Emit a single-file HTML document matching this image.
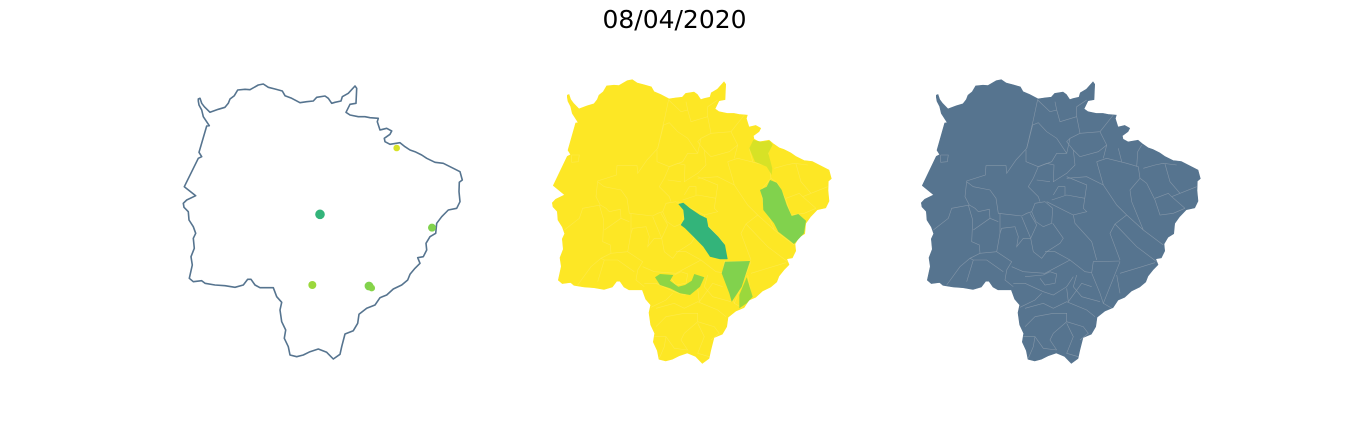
<!DOCTYPE html>
<html lang="pt">
<head>
<meta charset="utf-8">
<title>08/04/2020</title>
<style>
html,body{margin:0;padding:0;background:#fff;width:1350px;height:444px;overflow:hidden}
svg{display:block}
text{font-family:"DejaVu Sans","Liberation Sans",sans-serif}
</style>
</head>
<body>
<svg id="chart" width="1350" height="444" viewBox="0 0 1350 444" xmlns="http://www.w3.org/2000/svg">
  <text x="674.5" y="28" text-anchor="middle" font-size="25" fill="#000">08/04/2020</text>
  <g id="panel-points"></g>
  <g id="panel-regions"></g>
  <g id="panel-borders"></g>
</svg>
<script>
// State outline, digitised against the left panel (map units).
const outlineCoords = [85,87,90,85,95,100,103,110,120,127,145,118,165,112,175,100,180,87,193,77,203,60,225,58,240,59,265,45,280,42,295,52,315,57,337,63,345,77,365,85,390,98,410,95,430,93,440,82,465,78,475,85,485,100,495,97,513,93,517,80,535,70,555,48,560,55,558,100,540,103,528,127,540,135,565,140,585,140,600,143,625,145,622,155,630,180,650,175,665,183,660,193,643,205,645,215,660,223,690,218,705,230,720,240,735,245,755,255,770,265,795,277,820,280,850,295,870,305,877,330,868,337,867,365,870,395,860,415,835,420,815,440,800,460,797,490,780,500,768,520,770,540,760,560,743,563,750,580,735,595,720,613,713,630,695,645,670,657,650,675,630,683,615,705,590,715,567,733,563,760,550,782,525,792,515,830,510,853,490,867,470,847,445,837,420,845,400,855,380,860,360,855,355,830,343,805,347,780,335,755,330,720,335,697,320,680,310,653,270,653,255,645,243,628,233,628,220,645,195,652,165,647,135,645,105,640,95,632,70,635,58,625,67,585,63,560,73,535,70,505,77,490,70,470,57,450,55,425,42,412,40,400,50,390,77,377,43,350,85,265,95,260,87,247,110,168,118,167,100,140,95,120,87,105,85,93];

// City markers (left panel): map position, colour value, marker radius.
const pointU = [680,450,786,427,597,605];
const pointV = [234,433,473,645,648,654];
const pointValues = [0.94,0.65,0.81,0.85,0.81,0.82];
const pointRadii = [3.3,4.8,4,4,4.4,3.4];

// Highlighted municipalities (centre panel), digitised against that panel.
const regionValues = [0.65,0.81,0.81,0.85,0.83,0.94];
const regionShapes = [
  [415,402,430,398,450,415,480,435,500,445,505,470,535,500,555,525,563,568,540,568,510,560,490,530,465,505,435,475,422,465,433,448,430,420],
  [660,360,680,350,690,330,710,338,725,360,740,405,755,438,775,432,798,452,795,470,792,490,762,522,740,505,715,485,702,460,670,420,668,385],
  [545,610,555,575,630,573,605,650,575,695,568,670],
  [620,622,638,680,620,700,598,715,598,675],
  [345,622,360,612,400,615,390,632,415,650,435,645,455,632,463,612,493,622,480,650,450,675,420,670,390,655,360,645],
  [640,210,665,215,690,212,698,225,685,250,697,295,695,315,680,290,645,275,628,235]
];

// Municipal borders, digitised against the right panel.
const borderLines = [
  [383,88,370,150,350,235,318,270,290,310,288,287,228,287,226,315,170,333,165,380,178,405,125,415,115,445,70,480],
  [170,335,190,350,240,360,258,385,265,430,335,438,350,430,365,425,375,400,405,395],
  [348,240,348,275,385,290,370,325,355,350,385,380,390,395],
  [350,235,368,165,385,158,410,185,440,205,470,250,440,250,425,275,385,290],
  [175,405,188,450,185,515,208,525,210,550,260,545,270,490,270,430],
  [190,480,240,445,238,418,205,425,195,415,178,405],
  [240,445,265,455],
  [270,490,275,475,315,470,325,500,320,530,340,505,362,505,335,440],
  [362,505,380,465,360,430],
  [365,425,378,455,400,470,425,460,428,415,405,395],
  [428,460,460,505,450,520,410,545,395,565,370,545,362,505],
  [405,545,435,545,480,570,525,605,545,608,550,575,630,573],
  [260,545,305,575,290,600,285,630,310,650],
  [210,550,180,565,150,590,110,645],
  [180,565,190,570,230,570,280,605],
  [190,570,170,635],
  [305,590,340,605,405,610,480,570],
  [345,620,400,615,420,605,440,612,435,640,405,645,390,625],
  [310,640,345,640,400,665,430,675,470,650,490,620],
  [545,610,570,670,580,700,630,575],
  [630,610,735,578],
  [620,615,630,670],
  [580,700,605,715],
  [395,670,375,690,330,712],
  [345,715,400,700,430,715,470,695,530,720,555,740],
  [470,655,475,695,515,640,545,650],
  [500,615,490,650,515,680,570,695],
  [345,770,375,740,430,730,470,730,470,755,430,790,420,810,440,840],
  [470,755,520,770,535,790,510,810],
  [470,760,490,800,470,850,505,860],
  [340,800,375,800,370,830,355,865],
  [375,800,400,835,440,840],
  [383,90,420,125,440,120,435,95],
  [440,120,450,155,500,140,500,110,530,90],
  [500,140,510,190,480,205,470,250],
  [510,190,570,185,610,135],
  [570,185,590,225,565,245,510,260,490,240,470,215,480,205],
  [490,240,495,285,470,310,430,335,432,285,410,280,385,290],
  [380,330,420,335],
  [470,320,530,345,525,380,520,415,530,425,490,435,495,460,545,515,560,570],
  [425,390,470,375,525,385],
  [410,395,490,435],
  [430,375,445,350,465,350,465,375],
  [470,325,530,320,580,345,620,405,650,435,700,480,760,525],
  [650,435,615,462,680,530,740,575],
  [615,462,600,490,630,570],
  [560,275,580,345],
  [560,275,590,265,650,280,685,290,690,325,660,360,665,395,700,480],
  [590,225,580,265],
  [625,235,635,275],
  [680,290,683,245,695,225],
  [690,325,710,340,735,390,750,435,790,430,825,415],
  [735,385,775,370,785,380,860,350],
  [785,380,825,415],
  [765,282,780,335,810,370],
  [700,295,735,285,760,280,800,285],
  [92,255,115,255,112,275,92,277,92,255]
];

// Axis functions: map units to pixels for each panel.
function leftX(u){ return 170 + u / 3; }
function leftY(v){ return 70 + v / 3; }
function centerX(u){ return 540 + u / 3; }
function centerY(v){ return 70 + v / 3; }
function rightX(u){ return 910 + u / 3; }
function rightY(v){ return 70 + v / 3; }
function outlineToCenterU(u){ return u - 3; }
function outlineToCenterV(v){ return 27 + (v - 40) * 1.0315; }
function outlineToRightU(u){ return u - 6; }

const colorStops = [[0.6,[34,168,132]],[0.7,[68,191,112]],[0.8,[122,209,81]],[0.9,[189,223,38]],[1,[253,231,37]]];
function colorFor(value){
  for(let i = 1; i < colorStops.length; i++){
    if(value <= colorStops[i][0]){
      const a = colorStops[i-1], b = colorStops[i];
      const t = Math.max(0, (value - a[0]) / (b[0] - a[0]));
      const c = a[1].map((x, k) => Math.round(x + (b[1][k] - x) * t));
      return 'rgb(' + c.join(',') + ')';
    }
  }
  return 'rgb(253,231,37)';
}
function toPath(flat, fx, fy, closed){
  let d = '';
  for(let i = 0; i < flat.length; i += 2){
    d += (i ? 'L' : 'M') + fx(flat[i]).toFixed(1) + ' ' + fy(flat[i+1]).toFixed(1);
  }
  return d + (closed ? 'Z' : '');
}
const NS = 'http://www.w3.org/2000/svg';
function styled(el, attrs){
  Object.keys(attrs).forEach(k => el.setAttribute(k, attrs[k]));
  return el;
}

const panelPoints = document.getElementById('panel-points');
const panelRegions = document.getElementById('panel-regions');
const panelBorders = document.getElementById('panel-borders');

// Left panel: state outline and markers.
const leftOutline = styled(document.createElementNS(NS, 'path'), {
  d: toPath(outlineCoords, leftX, leftY, true), fill: 'none', stroke: '#56748f', 'stroke-width': 1.6, 'stroke-linejoin': 'round'
});


panelPoints.appendChild(leftOutline);

pointValues.forEach((value, i) => {
  const dot = styled(document.createElementNS(NS, 'circle'), {
    cx: leftX(pointU[i]), cy: leftY(pointV[i]), r: pointRadii[i], fill: colorFor(value)
  });
  
  
  panelPoints.appendChild(dot);
});

// Centre panel: yellow base, borders, highlighted municipalities.
const centerBase = styled(document.createElementNS(NS, 'path'), {
  d: toPath(outlineCoords, u => centerX(outlineToCenterU(u)), v => centerY(outlineToCenterV(v)), true), fill: '#fde725', stroke: '#fde725', 'stroke-width': 0.6
});


panelRegions.appendChild(centerBase);

borderLines.forEach(line => {
  const border = styled(document.createElementNS(NS, 'path'), {
    d: toPath(line, u => centerX(u + 3), centerY, false), fill: 'none', stroke: '#fdea4c', 'stroke-width': 0.6
  });
  
  
  panelRegions.appendChild(border);
});

regionValues.forEach((value, i) => {
  const region = styled(document.createElementNS(NS, 'path'), {
    d: toPath(regionShapes[i], centerX, centerY, true), fill: colorFor(value)
  });
  
  
  panelRegions.appendChild(region);
});

// Right panel: filled state with municipal borders.
const rightBase = styled(document.createElementNS(NS, 'path'), {
  d: toPath(outlineCoords, u => rightX(outlineToRightU(u)), v => rightY(outlineToCenterV(v)), true), fill: '#56748f', stroke: '#56748f', 'stroke-width': 0.6
});


panelBorders.appendChild(rightBase);

borderLines.forEach(line => {
  const border = styled(document.createElementNS(NS, 'path'), {
    d: toPath(line, rightX, rightY, false), fill: 'none', stroke: '#8496a8', 'stroke-width': 0.6
  });
  
  
  panelBorders.appendChild(border);
});
</script>
</body>
</html>
